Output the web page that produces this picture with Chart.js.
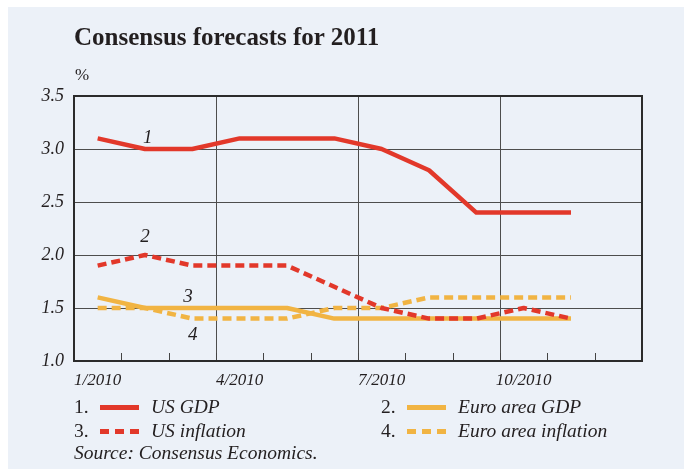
<!DOCTYPE html>
<html>
<head>
<meta charset="utf-8">
<script src="https://cdn.jsdelivr.net/npm/chart.js@4"></script>
<style>
  body { margin: 0; width: 684px; height: 469px; background: #fff; position: relative; overflow: hidden; font-family: "Liberation Serif", "DejaVu Serif", serif; color: #231f20; }
  .panel { position: absolute; left: 8px; top: 7px; right: 0; bottom: 0; background: #ecf1f8; }
  #chart { position: absolute; left: 0; top: 0; }
  .title { position: absolute; left: 74px; top: 23px; font-size: 25px; font-weight: bold; white-space: nowrap; }
  .unit { position: absolute; left: 75px; top: 65px; font-size: 17px; }
  .legend { position: absolute; left: 0; top: 0; }
  .leg { position: absolute; height: 22px; display: flex; align-items: center; white-space: nowrap; font-size: 19.5px; }
  .leg .num { width: 26px; }
  .leg .sw { width: 39px; height: 5px; margin-right: 12px; }
  .leg .txt { font-style: italic; }
  .source { position: absolute; left: 74px; top: 442px; font-size: 19.5px; font-style: italic; white-space: nowrap; }
</style>
</head>
<body>
<div class="panel"></div>
<canvas id="chart" width="684" height="469"></canvas>
<div class="title">Consensus forecasts for 2011</div>
<div class="unit">%</div>
<div id="legend" class="legend"></div>
<div class="source">Source: Consensus Economics.</div>
<script>
// bulan Jan..Nov 2010 (titik di tengah bulan)
const months = ['1/2010', '2/2010', '3/2010', '4/2010', '5/2010', '6/2010', '7/2010', '8/2010', '9/2010', '10/2010', '11/2010'];
const xTickLabels = { 0: '1/2010', 3: '4/2010', 6: '7/2010', 9: '10/2010' };

const usGdp         = [3.1, 3.0, 3.0, 3.1, 3.1, 3.1, 3.0, 2.8, 2.4, 2.4, 2.4];
const euroGdp       = [1.6, 1.5, 1.5, 1.5, 1.5, 1.4, 1.4, 1.4, 1.4, 1.4, 1.4];
const usInflation   = [1.9, 2.0, 1.9, 1.9, 1.9, 1.7, 1.5, 1.4, 1.4, 1.5, 1.4];
const euroInflation = [1.5, 1.5, 1.4, 1.4, 1.4, 1.5, 1.5, 1.6, 1.6, 1.6, 1.6];

const seriesNames = ['US GDP', 'Euro area GDP', 'US inflation', 'Euro area inflation'];

// nomor label di dalam grafik (posisi dalam satuan data)
const lineTags = ['1', '2', '3', '4'];
const lineTagX = [1.56, 1.5, 2.41, 2.51];
const lineTagY = [3.10, 2.17, 1.60, 1.245];

const RED = '#e2382a';
const ORANGE = '#f1b443';
const DASH = [9, 5];

const toPoints = arr => arr.map((v, i) => ({ x: i + 0.5, y: v }));

const series = [
    { label: seriesNames[0], data: usGdp, color: RED, dashed: false, order: 3 },
    { label: seriesNames[1], data: euroGdp, color: ORANGE, dashed: false, order: 2 },
    { label: seriesNames[2], data: usInflation, color: RED, dashed: true, order: 0 },
    { label: seriesNames[3], data: euroInflation, color: ORANGE, dashed: true, order: 1 }
];

const MONTH_W = 568 / 12;

const chartExtras = {
    id: 'chartExtras',
    beforeDatasetsDraw(chart) {
        const { ctx, chartArea: a, scales } = chart;
        ctx.save();
        // tick kecil ke dalam di tiap batas bulan
        ctx.strokeStyle = '#444';
        ctx.lineWidth = 1;
        for (let m = 1; m < 12; m++) {
            const x = Math.round(scales.x.getPixelForValue(m)) + 0.5;
            ctx.beginPath();
            ctx.moveTo(x, a.bottom);
            ctx.lineTo(x, a.bottom - 8);
            ctx.stroke();
        }
        // kotak grafik
        ctx.strokeStyle = '#2b2b2b';
        ctx.lineWidth = 2;
        ctx.strokeRect(a.left, a.top, a.right - a.left, a.bottom - a.top);
        ctx.restore();
    },
    afterDatasetsDraw(chart) {
        const { ctx, scales } = chart;
        ctx.save();
        ctx.font = 'italic 19px "Liberation Serif"';
        ctx.fillStyle = '#231f20';
        ctx.textAlign = 'center';
        ctx.textBaseline = 'middle';
        lineTags.forEach((t, i) => {
            ctx.fillText(t, scales.x.getPixelForValue(lineTagX[i]), scales.y.getPixelForValue(lineTagY[i]));
        });
        ctx.restore();
    }
};

new Chart(document.getElementById('chart'), {
    type: 'line',
    data: {
        datasets: series.map(s => ({
            label: s.label,
            data: toPoints(s.data),
            borderColor: s.color,
            backgroundColor: s.color,
            borderWidth: 4.5,
            borderDash: s.dashed ? DASH : [],
            borderCapStyle: 'butt',
            borderJoinStyle: 'round',
            tension: 0,
            pointRadius: 0,
            fill: false,
            order: s.order
        }))
    },
    options: {
        responsive: false,
        animation: false,
        layout: { padding: { top: 96, right: 42, bottom: 78, left: 0 } },
        plugins: { legend: { display: false }, tooltip: { enabled: false } },
        scales: {
            x: {
                type: 'linear',
                min: 0, max: 12,
                afterFit: s => { s.height = 30; },
                border: { display: false },
                grid: {
                    drawTicks: false,
                    color: c => (c.tick && c.tick.value % 3 === 0 && c.tick.value > 0 && c.tick.value < 12) ? '#4d4d4d' : 'transparent',
                    lineWidth: 1
                },
                ticks: {
                    stepSize: 1,
                    autoSkip: false,
                    maxRotation: 0,
                    labelOffset: MONTH_W / 2,
                    padding: 9,
                    color: '#231f20',
                    font: { family: 'Liberation Serif', style: 'italic', size: 17 },
                    callback: v => xTickLabels[v] || ''
                }
            },
            y: {
                min: 1, max: 3.5,
                afterFit: s => { s.width = 74; },
                border: { display: false },
                grid: {
                    drawTicks: false,
                    color: c => (c.tick && c.tick.value > 1 && c.tick.value < 3.5) ? '#4d4d4d' : 'transparent',
                    lineWidth: 1
                },
                ticks: {
                    stepSize: 0.5,
                    padding: 10,
                    color: '#231f20',
                    font: { family: 'Liberation Serif', style: 'italic', size: 18 },
                    callback: v => v.toFixed(1)
                }
            }
        }
    },
    plugins: [chartExtras]
});

// legenda HTML
const legendPos = [
    { num: '1.', x: 74, y: 396 },
    { num: '2.', x: 381, y: 396 },
    { num: '3.', x: 74, y: 420 },
    { num: '4.', x: 381, y: 420 }
];
const legendEl = document.getElementById('legend');
series.forEach((s, i) => {
    const p = legendPos[i];
    const row = document.createElement('div');
    row.className = 'leg';
    row.style.left = p.x + 'px';
    row.style.top = p.y + 'px';
    const bg = s.dashed
        ? `repeating-linear-gradient(to right, ${s.color} 0 9px, transparent 9px 15px)`
        : s.color;
    row.innerHTML = `<span class="num">${p.num}</span><span class="sw" style="background:${bg}"></span><span class="txt">${s.label}</span>`;
    legendEl.appendChild(row);
});
</script>
</body>
</html>
